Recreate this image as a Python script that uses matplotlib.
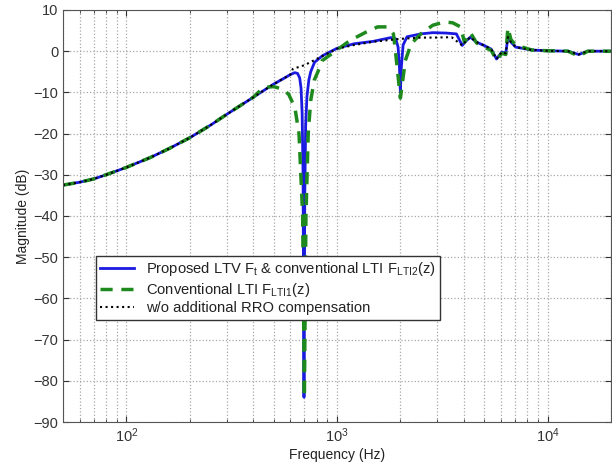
import matplotlib
matplotlib.use("Agg")
import matplotlib.pyplot as plt
import numpy as np

plt.rcParams['font.family'] = ['Liberation Sans', 'DejaVu Sans']
plt.rcParams['mathtext.fontset'] = 'custom'
plt.rcParams['mathtext.rm'] = 'Liberation Sans'
plt.rcParams['mathtext.it'] = 'Liberation Sans:italic'

# shared low-frequency part (all three curves coincide here)
f_low = [50, 60, 70, 80, 100, 130, 160, 200, 250, 300, 350, 400]
db_low = [-32.5, -31.8, -31.0, -30.0, -28.2, -25.8, -23.6, -21.0, -18.0, -15.3, -13.1, -11.2]

# proposed LTV / LTI2 (blue)
f_blue = f_low + [450, 500, 550, 600, 630, 650, 665, 675, 683, 690, 697, 703, 710, 720,
                  735, 750, 782, 853, 1000, 1205, 1490, 1800, 1900, 1950, 1980, 2000,
                  2020, 2060, 2150, 2500, 2850, 3300, 3690, 3930, 4100, 4300, 4600, 4990,
                  5400, 5720, 6060, 6330, 6480, 6700, 7050, 8400, 10000, 12500, 14060,
                  15500, 17000, 20000]
db_blue = db_low + [-9.5, -8.0, -6.8, -5.7, -5.2, -5.4, -6.5, -9.0, -15.0, -30.0, -84.0, -35.0,
                    -18.0, -11.0, -7.0, -5.0, -2.7, -1.1, 0.7, 1.8, 2.4, 3.3, 3.0, 1.0,
                    -4.0, -10.0, -4.0, 1.5, 3.5, 4.2, 4.5, 4.4, 4.2, 1.4, 2.5, 3.4, 2.2, 1.4,
                    0.5, -1.9, -0.2, -0.5, 3.4, 2.2, 1.0, 0.3, 0.1, 0.0, -0.8, 0.0, 0.0, 0.0]

# conventional LTI1 (green dashed)
f_green = f_low + [447, 500, 553, 590, 631, 660, 687, 700, 712, 730, 750, 780, 810, 850,
                   1000, 1153, 1370, 1560, 1737, 1853, 1893, 2000, 2110, 2250, 2500, 2850,
                   3240, 3540, 3860, 4030, 4300, 4600, 4990, 5400, 5720, 6060, 6330, 6480,
                   6700, 7050, 8400, 10000, 12500, 14060, 15500, 17000, 20000]
db_green = db_low + [-8.8, -8.6, -9.2, -10.5, -13.7, -20.0, -40.0, -84.0, -40.0, -20.0, -12.0,
                     -7.0, -5.1, -2.3, 0.3, 2.6, 4.6, 5.9, 5.9, 4.2, 0.2, -11.4, -2.3, 1.8,
                     4.2, 6.3, 7.1, 6.9, 5.9, 2.2, 4.5, 2.0, 1.0, 0.2, -2.2, -0.5, -0.8, 5.7,
                     2.8, 1.5, 0.3, 0.1, 0.0, -1.2, 0.0, 0.0, 0.0]

# without additional RRO compensation (black dotted)
f_dot = f_low + [450, 500, 550, 600, 617, 700, 800, 1000, 1205, 1490, 2000, 2500, 2850,
                 3500, 3930, 4100, 4300, 4600, 4990, 5400, 5720, 6060, 6330, 6480, 6700,
                 7050, 8400, 10000, 12500, 14060, 15500, 17000, 20000]
db_dot = db_low + [-9.5, -8.0, -6.8, -5.7, -4.3, -3.4, -1.9, 0.6, 1.5, 2.3, 3.0, 3.3, 3.3,
                   3.4, 1.4, 2.5, 3.4, 2.2, 1.4, 0.5, -1.9, -0.2, -0.5, 3.4, 2.2, 1.0, 0.3,
                   0.1, 0.0, -0.8, 0.0, 0.0, 0.0]

fig = plt.figure(figsize=(6.12, 4.70), dpi=100)
ax = fig.add_axes([63 / 612, 48 / 470, 548 / 612, 412 / 470])

ax.semilogx(f_blue, db_blue, color='#1a1ae0', lw=2.0,
            label=r'Proposed LTV F$_{\mathrm{t}}$ & conventional LTI F$_{\mathrm{LTI2}}$(z)')
ax.semilogx(f_green, db_green, color='#1e8a1e', lw=2.5, ls=(0, (3.5, 2.5)),
            label=r'Conventional LTI F$_{\mathrm{LTI1}}$(z)')
ax.semilogx(f_dot, db_dot, color='black', lw=1.5, ls=':',
            label='w/o additional RRO compensation')

ax.set_xlim(50, 20000)
ax.set_ylim(-90, 10)
ax.set_yticks(np.arange(-90, 11, 10))
ax.grid(True, which='both', axis='x', ls=':', color='#a8a8a8', lw=0.9)
ax.grid(True, which='major', axis='y', ls=':', color='#a8a8a8', lw=0.9)
ax.tick_params(which='both', direction='in', top=True, right=True, colors='#333333',
               labelsize=10.5)
ax.tick_params(which='major', length=4)
ax.tick_params(which='minor', length=2)
for s in ax.spines.values():
    s.set_color('#555555')

ax.set_xlabel('Frequency (Hz)', fontsize=10, color='#222222', labelpad=2)
ax.set_ylabel('Magnitude (dB)', fontsize=10, color='#222222', labelpad=2)

leg = ax.legend(loc='lower left', bbox_to_anchor=(0.06, 0.248), borderaxespad=0,
                fontsize=10.6, fancybox=False, framealpha=1, edgecolor='#333333',
                handlelength=2.3, labelspacing=0.18, borderpad=0.3)
leg.get_frame().set_linewidth(1.0)
for t in leg.get_texts():
    t.set_color('#222222')

fig.savefig('out.png', dpi=100)
